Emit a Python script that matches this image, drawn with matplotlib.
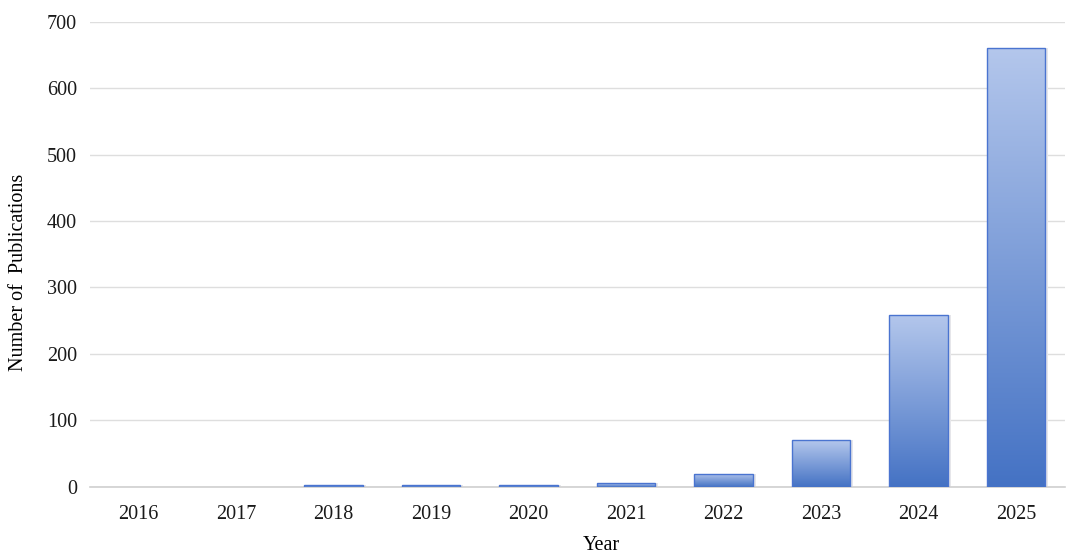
import matplotlib
matplotlib.use("Agg")
import matplotlib.pyplot as plt
import numpy as np
from matplotlib.colors import LinearSegmentedColormap

# data
years = ["2016", "2017", "2018", "2019", "2020", "2021", "2022", "2023", "2024", "2025"]
counts = [0, 0, 2, 2, 2, 5, 20, 70, 259, 661]
y_ticks = [0, 100, 200, 300, 400, 500, 600, 700]

plt.rcParams['font.family'] = ['Liberation Serif', 'DejaVu Serif']

fig = plt.figure(figsize=(10.8, 5.57), dpi=100)
ax = fig.add_axes([0.083, 0.126, 0.903, 0.835])

x = np.arange(len(years))
w = 0.6

# vertical gradient inside each bar: light at the top, dark at the bottom
cmap = LinearSegmentedColormap.from_list('grad', ['#4472c4', '#b4c7ec'])
grad = np.linspace(0, 1, 256).reshape(-1, 1)
for xi, h in zip(x, counts):
    if h <= 0:
        continue
    # light shadow to the right
    ax.bar(xi + 0.03, h, width=w, color='#e6e6ea', zorder=2, linewidth=0)
    b = ax.bar(xi, h, width=w, color='none', linewidth=0, zorder=3)[0]
    im = ax.imshow(grad, cmap=cmap, origin='lower', aspect='auto',
                   extent=[xi - w / 2, xi + w / 2, 0, h], zorder=3)
    im.set_clip_path(b)
    ax.bar(xi, h, width=w, color='none', edgecolor='#4a74d0', linewidth=1.0, zorder=4)

ax.set_xlim(-0.5, len(years) - 0.5)
ax.set_ylim(0, 700)
ax.set_yticks(y_ticks)
ax.set_xticks(x)
ax.set_xticklabels(years)
ax.tick_params(axis='both', length=0, labelsize=14.5, colors='#1a1a1a')
ax.tick_params(axis='x', pad=13)
ax.tick_params(axis='y', pad=9)

ax.grid(axis='y', color='#dedede', linewidth=1.0, zorder=0)
ax.set_axisbelow(True)
for s in ['top', 'right', 'left']:
    ax.spines[s].set_visible(False)
ax.spines['bottom'].set_color('#d0d0d0')
ax.spines['bottom'].set_linewidth(1.2)

ax.set_xlabel('Year', fontsize=14.5)
ax.set_ylabel('Number of  Publications', fontsize=14.5)
ax.xaxis.set_label_coords(0.525, -0.105)
ax.yaxis.set_label_coords(-0.063, 0.462)

fig.savefig('out.png', dpi=100)
